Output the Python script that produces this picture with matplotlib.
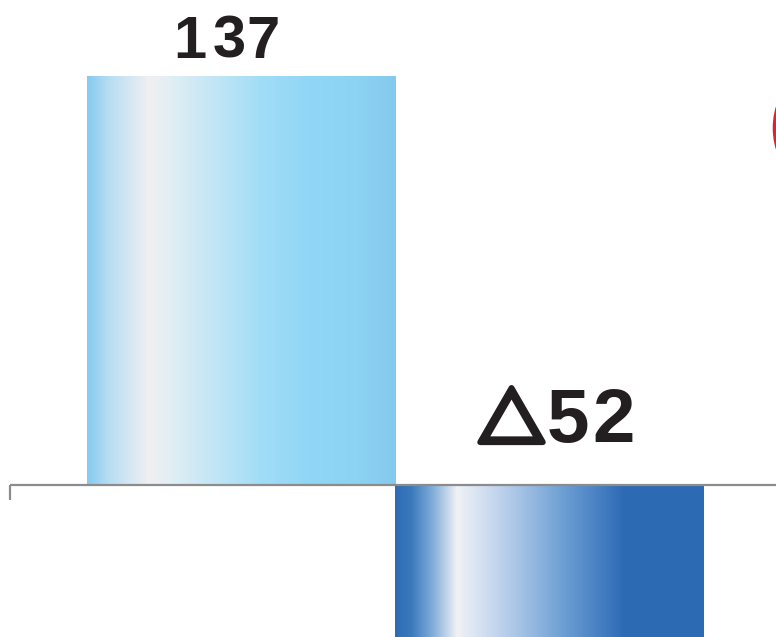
import matplotlib
matplotlib.use('Agg')
import matplotlib.pyplot as plt
import matplotlib.patheffects as pe
import numpy as np
from matplotlib.colors import LinearSegmentedColormap
from matplotlib.patches import Ellipse

# values shown on the chart
categories = ['A', 'B']
values = [137, -52]
labels = ['137', '△52']

# metallic-looking horizontal gradients for each bar
light_stops = [(0.0, '#85cbef'), (0.07, '#b8ddf4'), (0.2, '#f0f0f2'), (0.28, '#dfeef4'),
               (0.42, '#c0e5f6'), (0.56, '#a2ddf7'), (0.72, '#90d6f6'), (0.88, '#8cd2f2'),
               (1.0, '#85caee')]
dark_stops = [(0.0, '#2e6cb5'), (0.05, '#3a78bc'), (0.12, '#80acd9'), (0.2, '#f0f2f5'),
              (0.28, '#d4e0f2'), (0.4, '#a7c4e6'), (0.53, '#72a3d5'), (0.66, '#4780c3'),
              (0.74, '#2e6bb5'), (1.0, '#2d6ab4')]
cmaps = [LinearSegmentedColormap.from_list('light', light_stops),
         LinearSegmentedColormap.from_list('dark', dark_stops)]

W, H = 776, 637
fig = plt.figure(figsize=(W / 100, H / 100), dpi=100)
ax = fig.add_axes([0, 0, 1, 1])

px_x = 308.5          # pixels per bar width
px_y = 409 / 137      # pixels per unit
x0 = -241 / px_x
ax.set_xlim(x0, x0 + W / px_x)
ax.set_ylim(-152 / px_y, -152 / px_y + H / px_y)
ax.axis('off')

xs = np.arange(len(categories))
bars = ax.bar(xs, values, width=1.0, color='none', edgecolor='none')
grad = np.linspace(0, 1, 512).reshape(1, -1)
for b, cm in zip(bars, cmaps):
    x, y = b.get_x(), b.get_y()
    w, h = b.get_width(), b.get_height()
    im = ax.imshow(grad, cmap=cm, aspect='auto', interpolation='bilinear',
                   extent=[x, x + w, y, y + h], zorder=2)
    im.set_clip_path(b)

# baseline with small tick at the left end
ax.plot([x0 + 9.5 / px_x, x0 + W / px_x], [0, 0], color='#8c8c8c', lw=1.6,
        solid_capstyle='butt', zorder=3)
ax.plot([x0 + 9.5 / px_x] * 2, [0, -15 / px_y], color='#8c8c8c', lw=1.6,
        solid_capstyle='butt', zorder=3)

ink = '#231f20'


def spaced_label(xc, yb, text, size, offsets, tri_size=None):
    # one glyph at a time, so the digits get the wide tracking of the original
    for ch, dx in zip(text, offsets):
        if ch == '△':
            ax.text(xc + dx / px_x, yb - 1 / px_y, ch, ha='center', va='baseline',
                    fontsize=tri_size, fontweight='bold', color=ink,
                    family=['Noto Sans CJK JP', 'DejaVu Sans'],
                    path_effects=[pe.withStroke(linewidth=4.2, foreground=ink)])
        else:
            ax.text(xc + dx / px_x, yb, ch, ha='center', va='baseline',
                    fontsize=size, fontweight='bold', color=ink,
                    family=['Liberation Sans', 'DejaVu Sans'])


# value labels
spaced_label(xs[0], values[0] + 18 / px_y, labels[0], 43, [-51, -12, 22])
spaced_label(xs[1], 43 / px_y, labels[1], 55, [-38, 18, 64], tri_size=48)

# red ring peeking in from the right edge
r = 75
ax.add_patch(Ellipse((x0 + (773 + r) / px_x, -152 / px_y + (H - 128) / px_y),
                     width=2 * (r - 2.5) / px_x, height=2 * (r - 2.5) / px_y,
                     facecolor='none', edgecolor='#e6202a', lw=4, zorder=4))

fig.savefig('out.png', dpi=100)
